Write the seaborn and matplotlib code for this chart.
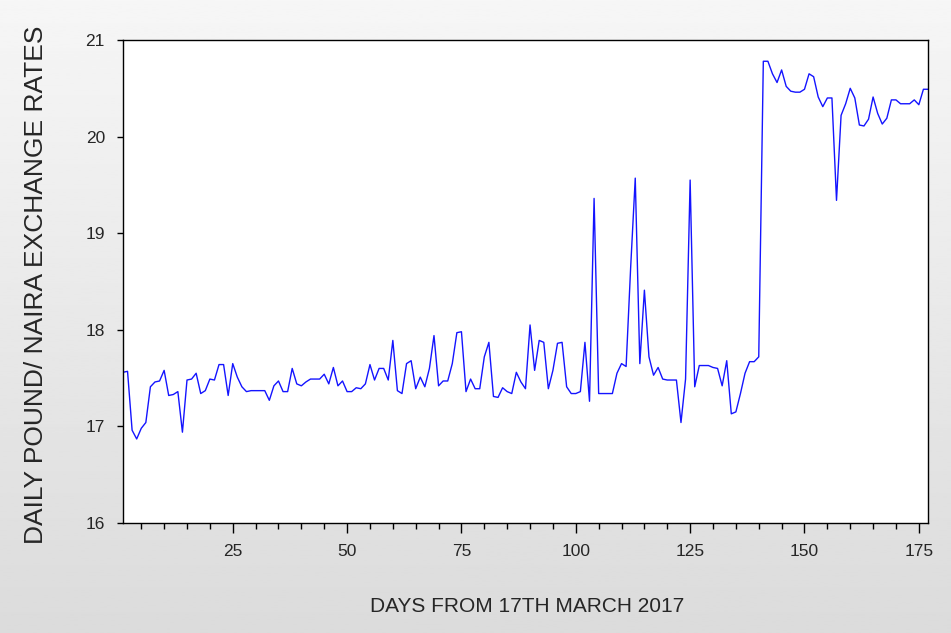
import numpy as np
import pandas as pd
import matplotlib
matplotlib.use("Agg")
import matplotlib.pyplot as plt
from matplotlib.ticker import MultipleLocator
import seaborn as sns

# daily pound / naira rates (day 1 = 17 March 2017)
rates = [
    17.56, 17.57, 16.96, 16.87, 16.98, 17.04, 17.41, 17.46, 17.47, 17.58,
    17.32, 17.33, 17.36, 16.94, 17.48, 17.49, 17.55, 17.34, 17.37, 17.49,
    17.48, 17.64, 17.64, 17.32, 17.65, 17.51, 17.41, 17.36, 17.37, 17.37,
    17.37, 17.37, 17.27, 17.42, 17.47, 17.36, 17.36, 17.60, 17.44, 17.42,
    17.46, 17.49, 17.49, 17.49, 17.54, 17.44, 17.61, 17.42, 17.47, 17.36,
    17.36, 17.40, 17.39, 17.44, 17.64, 17.48, 17.60, 17.60, 17.48, 17.89,
    17.37, 17.34, 17.65, 17.68, 17.39, 17.51, 17.41, 17.60, 17.94, 17.42,
    17.47, 17.47, 17.65, 17.97, 17.98, 17.36, 17.49, 17.39, 17.39, 17.72,
    17.87, 17.31, 17.30, 17.40, 17.36, 17.34, 17.56, 17.46, 17.39, 18.05,
    17.58, 17.89, 17.87, 17.39, 17.58, 17.86, 17.87, 17.41, 17.34, 17.34,
    17.36, 17.87, 17.26, 19.36, 17.34, 17.34, 17.34, 17.34, 17.55, 17.65,
    17.62, 18.65, 19.57, 17.65, 18.41, 17.72, 17.53, 17.61, 17.49, 17.48,
    17.48, 17.48, 17.04, 17.49, 19.55, 17.41, 17.63, 17.63, 17.63, 17.61,
    17.60, 17.42, 17.68, 17.13, 17.15, 17.34, 17.55, 17.67, 17.67, 17.72,
    20.78, 20.78, 20.65, 20.56, 20.69, 20.52, 20.47, 20.46, 20.46, 20.49,
    20.65, 20.62, 20.41, 20.31, 20.40, 20.40, 19.34, 20.22, 20.34, 20.50,
    20.40, 20.12, 20.11, 20.18, 20.41, 20.24, 20.13, 20.19, 20.38, 20.38,
    20.34, 20.34, 20.34, 20.38, 20.33, 20.49, 20.49,
]
days = list(range(1, len(rates) + 1))

df = pd.DataFrame({"day": days, "rate": rates})

sns.set_style("white")
plt.rcParams["font.family"] = ["Liberation Sans", "DejaVu Sans"]

fig = plt.figure(figsize=(9.51, 6.33), dpi=100)

# grey gradient behind the graph
bg = fig.add_axes([0, 0, 1, 1])
grad = np.linspace(0.965, 0.86, 256).reshape(-1, 1)
bg.imshow(grad, aspect="auto", cmap="gray", vmin=0, vmax=1, extent=[0, 1, 0, 1])
bg.set_axis_off()
bg.set_zorder(0)

ax = fig.add_axes([0.1293, 0.1738, 0.8465, 0.763])
ax.set_zorder(1)
ax.set_facecolor("white")

sns.lineplot(data=df, x="day", y="rate", ax=ax, color="#1414ff", linewidth=1.0)

ax.set_xlim(1, 177)
ax.set_ylim(16, 21)
ax.xaxis.set_major_locator(MultipleLocator(25))
ax.xaxis.set_minor_locator(MultipleLocator(5))
ax.set_yticks([16, 17, 18, 19, 20, 21])

ax.tick_params(axis="x", which="major", direction="out", length=7, width=1,
               color="black", labelsize=12.5, pad=8, bottom=True)
ax.tick_params(axis="x", which="minor", direction="out", length=4.5, width=1,
               color="black", bottom=True)
ax.tick_params(axis="y", which="major", direction="out", length=4, width=1,
               color="black", labelsize=12.5, pad=9, left=True)

for s in ax.spines.values():
    s.set_color("black")
    s.set_linewidth(1.0)

ax.set_xlabel("DAYS FROM 17TH MARCH 2017", fontsize=15)
ax.set_ylabel("DAILY POUND/ NAIRA EXCHANGE RATES", fontsize=19)
ax.xaxis.set_label_coords(0.502, -0.153)
ax.yaxis.set_label_coords(-0.093, 0.493)

fig.savefig("out.png", dpi=100)
